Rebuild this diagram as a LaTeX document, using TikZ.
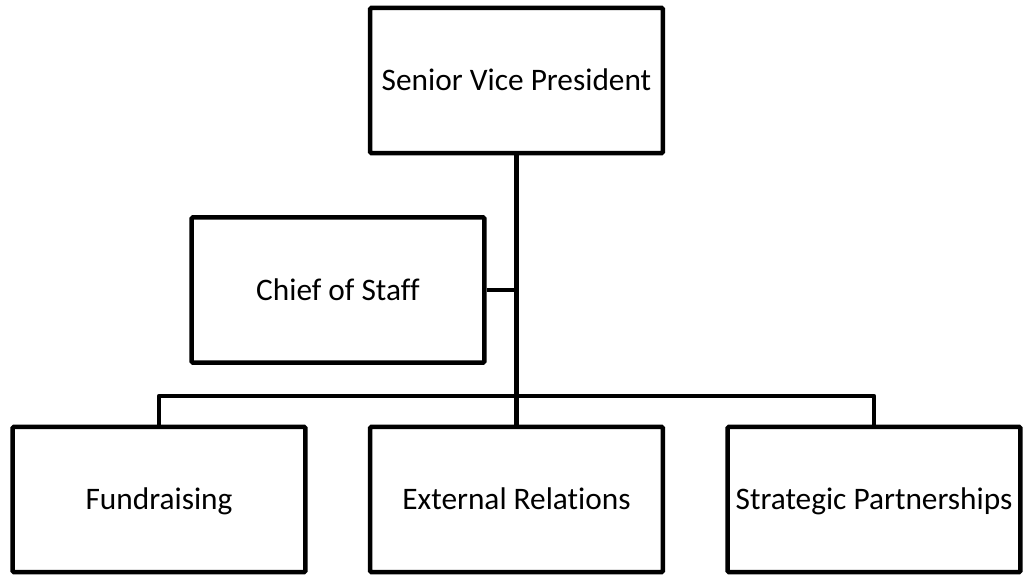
\documentclass[tikz,border=0pt]{standalone}
\usepackage{fontspec}
\setmainfont{Carlito}[Ligatures=NoCommon]
\begin{document}
\begin{tikzpicture}[x=0.75pt,y=-0.75pt,
  orgbox/.style={draw=black, line width=3.4pt, fill=white, rectangle,
    rounded corners=1pt, minimum width=219.5pt, minimum height=109pt,
    inner sep=0pt, text height=15.1pt, text depth=0pt,
    font=\fontsize{23.5}{27}\selectfont},
  link/.style={draw=black, line width=3.6pt},
  sidelink/.style={draw=black, line width=2.6pt}]
  \useasboundingbox (0,0) rectangle (1025,576);
  % boxes
  \node[orgbox] (svp) at (516.5,80.5) {Senior Vice President};
  \node[orgbox] (cos) at (338,290) {Chief of Staff};
  \node[orgbox] (fund) at (159,499.5) {Fundraising};
  \node[orgbox] (ext) at (516.5,499.5) {External Relations};
  \node[orgbox] (strat) at (874,499.5) {Strategic Partnerships};
  % reporting lines
  \coordinate (bar) at (516.5,396);
  \coordinate (side) at (516.5,290);
  \draw[link] (svp.south) -- (ext.north);
  \draw[link, line join=round] (fund.north) |- (bar) -| (strat.north);
  \draw[sidelink] (cos.east) -- (side);
\end{tikzpicture}
\end{document}
